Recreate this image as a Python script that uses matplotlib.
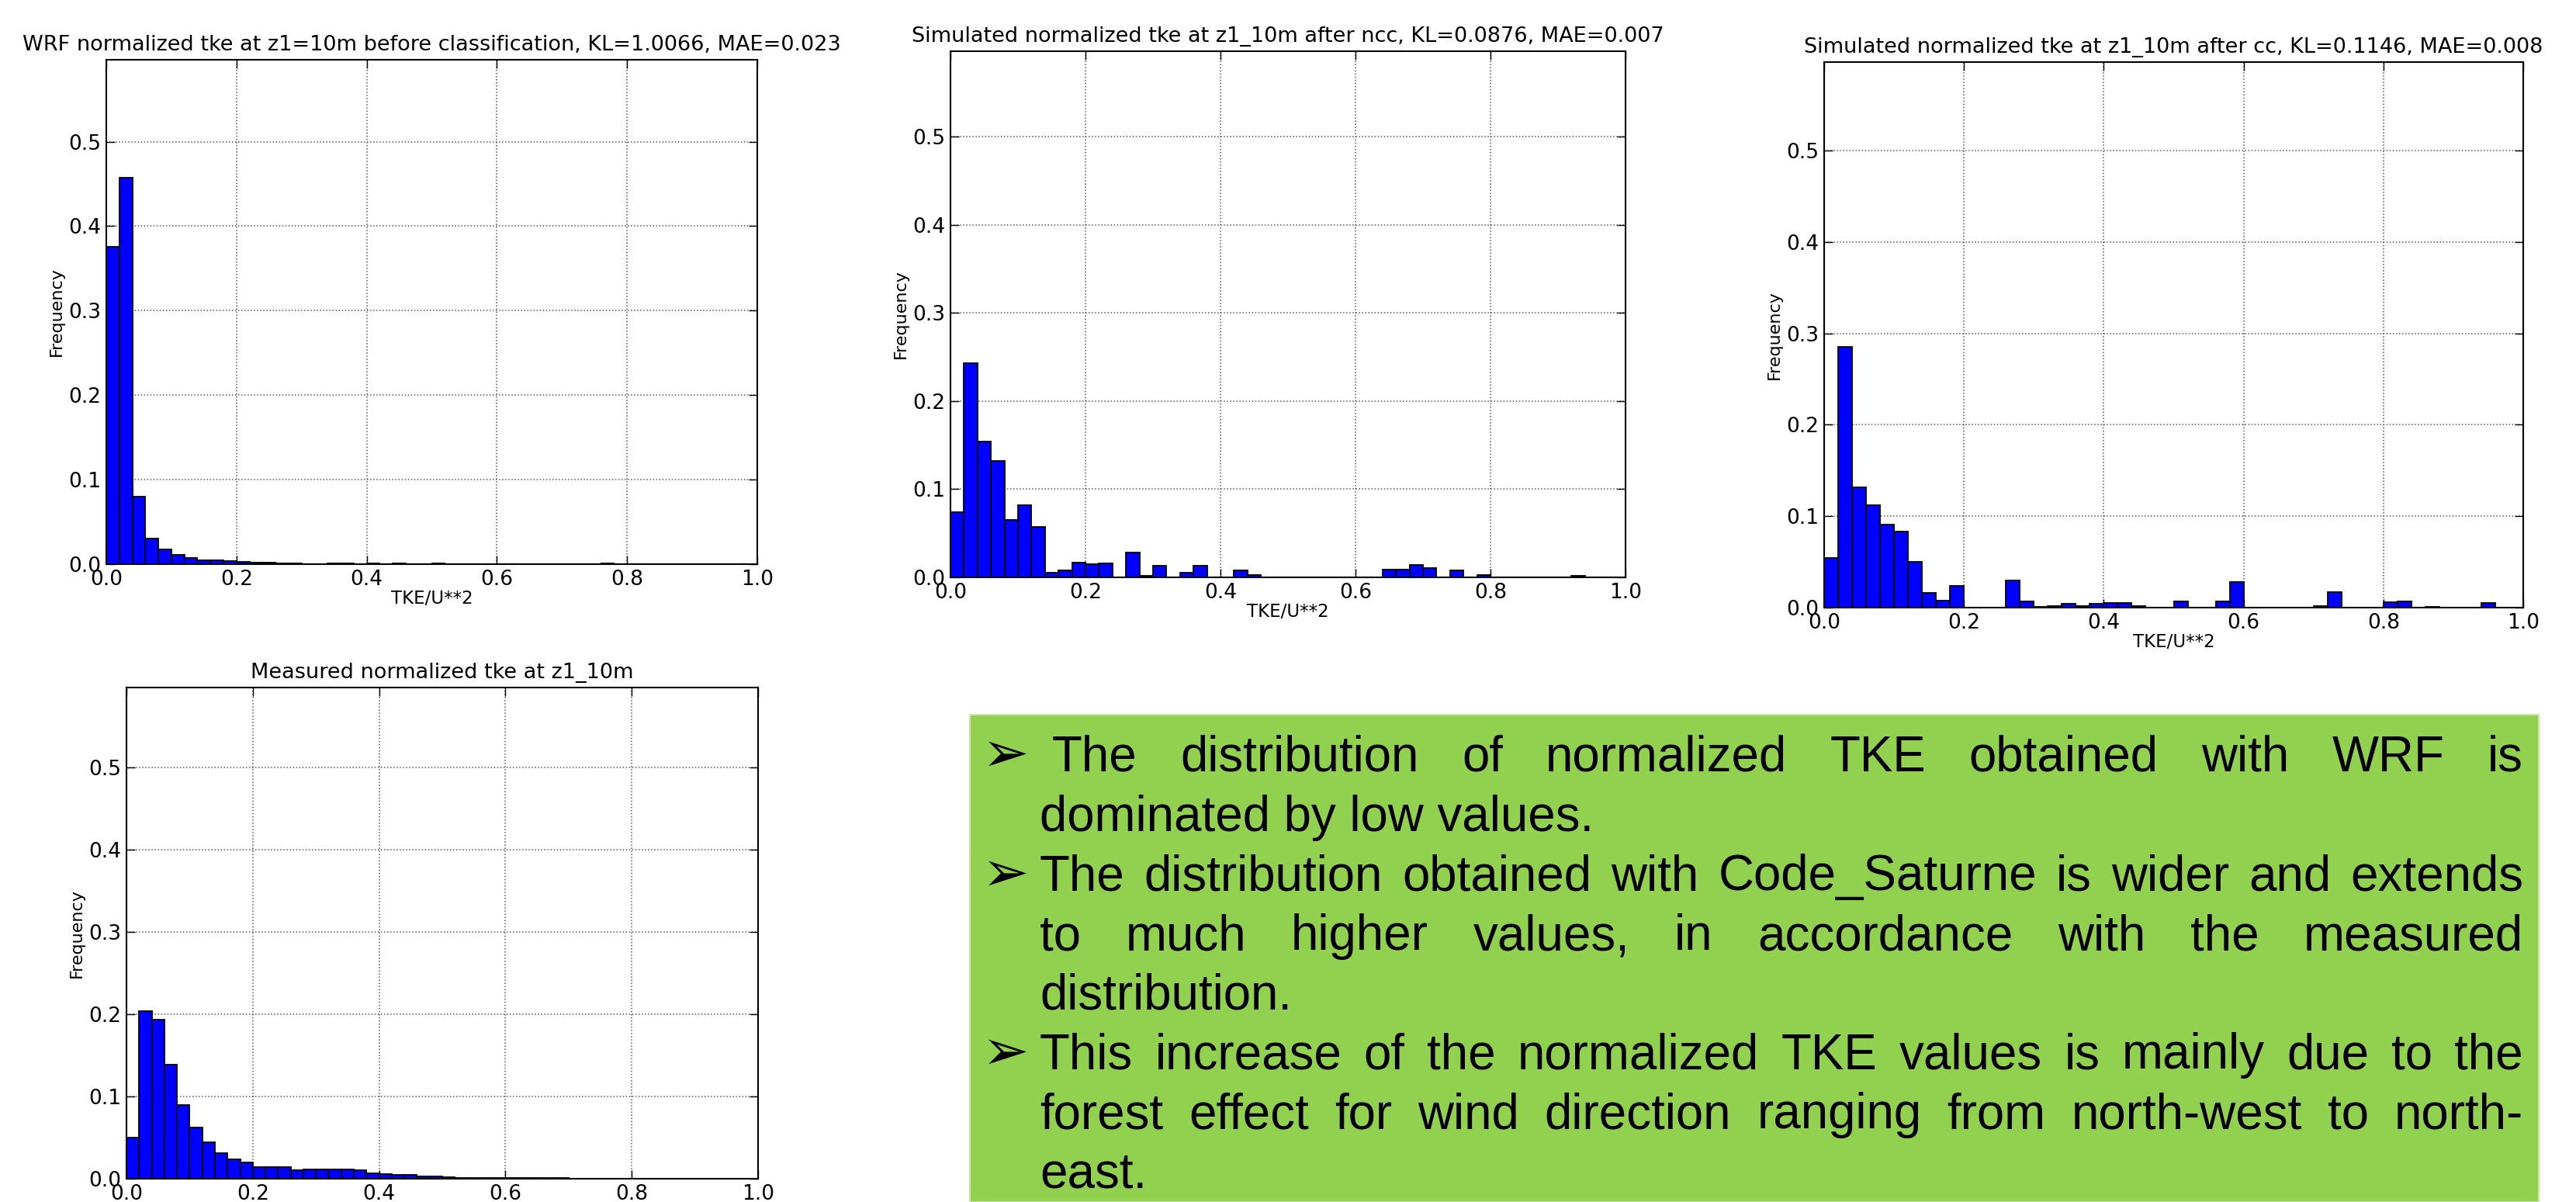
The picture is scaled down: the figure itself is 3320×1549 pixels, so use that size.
import numpy as np
import matplotlib
matplotlib.use("Agg")
import matplotlib.pyplot as plt

# bin edges of the histograms (50 bins over 0..1)
edges = np.linspace(0.0, 1.0, 51)

# frequency per bin
wrf = [0.376, 0.457, 0.080, 0.030, 0.017, 0.011, 0.007, 0.005, 0.005, 0.004,
       0.003, 0.002, 0.002, 0.001, 0.001, 0.0, 0.0, 0.001, 0.001, 0.0,
       0.001, 0.0, 0.001, 0.0, 0.0, 0.001, 0.0, 0.0, 0.0, 0.0,
       0.0, 0.0, 0.0, 0.0, 0.0, 0.0, 0.0, 0.0, 0.001, 0.0,
       0.0, 0.0, 0.0, 0.0, 0.0, 0.0, 0.0, 0.0, 0.0, 0.0]

ncc = [0.074, 0.243, 0.154, 0.132, 0.065, 0.082, 0.057, 0.005, 0.008, 0.017,
       0.015, 0.016, 0.0, 0.028, 0.002, 0.013, 0.0, 0.005, 0.013, 0.0,
       0.0, 0.008, 0.003, 0.0, 0.0, 0.0, 0.0, 0.0, 0.0, 0.0,
       0.0, 0.0, 0.009, 0.009, 0.014, 0.011, 0.0, 0.008, 0.0, 0.003,
       0.0, 0.0, 0.0, 0.0, 0.0, 0.0, 0.002, 0.0, 0.0, 0.0]

cc = [0.054, 0.285, 0.132, 0.112, 0.091, 0.083, 0.050, 0.016, 0.008, 0.024,
      0.0, 0.0, 0.0, 0.030, 0.007, 0.001, 0.002, 0.004, 0.002, 0.004,
      0.005, 0.005, 0.002, 0.0, 0.0, 0.007, 0.0, 0.0, 0.007, 0.028,
      0.0, 0.0, 0.0, 0.0, 0.0, 0.002, 0.017, 0.0, 0.0, 0.0,
      0.006, 0.007, 0.0, 0.001, 0.0, 0.0, 0.0, 0.005, 0.0, 0.0]

measured = [0.050, 0.204, 0.193, 0.139, 0.090, 0.062, 0.044, 0.031, 0.024, 0.020,
            0.014, 0.014, 0.014, 0.010, 0.011, 0.011, 0.011, 0.011, 0.010, 0.007,
            0.006, 0.0045, 0.0045, 0.003, 0.003, 0.002, 0.001, 0.001, 0.001, 0.001,
            0.001, 0.001, 0.001, 0.001, 0.001, 0.0, 0.0, 0.0, 0.0, 0.0,
            0.0, 0.0, 0.0, 0.0, 0.0, 0.0, 0.0, 0.0, 0.0, 0.0]

titles = ["WRF normalized tke at z1=10m before classification, KL=1.0066, MAE=0.023",
          "Simulated normalized tke at z1_10m after ncc, KL=0.0876, MAE=0.007",
          "Simulated normalized tke at z1_10m after cc, KL=0.1146, MAE=0.008",
          "Measured normalized tke at z1_10m"]
xlabels = ["TKE/U**2", "TKE/U**2", "TKE/U**2", None]

# text of the green box, one list per bullet, lines as in the picture
bullets = [
    [" The distribution of normalized TKE obtained with WRF is",
     "dominated by low values."],
    ["The distribution obtained with Code_Saturne is wider and extends",
     "to much higher values, in accordance with the measured",
     "distribution."],
    ["This increase of the normalized TKE values is mainly due to the",
     "forest effect for wind direction ranging from north-west to north-",
     "east."],
]

W, H = 3320, 1549
fig = plt.figure(figsize=(W / 100, H / 100), dpi=100)
fig.patch.set_facecolor("white")


def pix_axes(x0, y0, x1, y1):
    return fig.add_axes([x0 / W, 1 - y1 / H, (x1 - x0) / W, (y1 - y0) / H])


boxes = [(137, 77, 976, 727), (1225, 66, 2095, 744),
         (2351, 80, 3252, 783), (163, 886, 977, 1519)]
series = [wrf, ncc, cc, measured]

for (bx, vals, title, xl) in zip(boxes, series, titles, xlabels):
    ax = pix_axes(*bx)
    ax.bar(edges[:-1], vals, width=np.diff(edges), align="edge",
           color="#0000ff", edgecolor="black", linewidth=1.3, zorder=2)
    ax.set_xlim(0, 1)
    ax.set_ylim(0, 0.597)
    ax.set_xticks([0.0, 0.2, 0.4, 0.6, 0.8, 1.0])
    ax.set_yticks([0.0, 0.1, 0.2, 0.3, 0.4, 0.5])
    ax.grid(True, color="0.35", linestyle=":", linewidth=1.1)
    ax.set_axisbelow(True)
    ax.tick_params(direction="in", top=True, right=True, length=8, width=1,
                   labelsize=19, pad=5)
    for s in ax.spines.values():
        s.set_linewidth(1.5)
    ax.set_title(title, fontsize=19.5, pad=9)
    ax.set_ylabel("Frequency", fontsize=16, labelpad=4)
    if xl:
        ax.set_xlabel(xl, fontsize=16.5, labelpad=0)

# green comment box
bx0, by0, bx1, by1 = 1250, 921, 3272, 1549
fig.patches.append(plt.Rectangle((bx0 / W, 1 - by1 / H), (bx1 - bx0) / W,
                                 (by1 - by0) / H, transform=fig.transFigure,
                                 facecolor="#92d050", edgecolor="#c8e6a8",
                                 linewidth=1.5, zorder=0))

fam = ["Liberation Sans", "DejaVu Sans"]
fs = 45.8
renderer = fig.canvas.get_renderer()
left, right = 1340, 3252
base0, step = 994, 76.7


def put(x, y, s):
    return fig.text(x / W, 1 - y / H, s, fontsize=fs, family=fam,
                    va="baseline", ha="left")


line = 0
for para in bullets:
    fig.text(1266 / W, 1 - (base0 + line * step) / H, "\u27a2", fontsize=52,
             family=["DejaVu Sans"], va="baseline", ha="left")
    for k, txt in enumerate(para):
        y = base0 + line * step
        x0 = left
        if txt.startswith(" "):
            x0 = 1356
            txt = txt.strip()
        if k == len(para) - 1:
            put(x0, y, txt)
        else:
            # justified line: spread the words between both margins
            words = txt.split()
            objs = [put(0, y, w) for w in words]
            widths = [o.get_window_extent(renderer).width for o in objs]
            gap = (right - x0 - sum(widths)) / (len(words) - 1)
            x = x0
            for o, w in zip(objs, widths):
                o.set_x(x / W)
                x += w + gap
        line += 1

fig.savefig("out.png", dpi=100)
